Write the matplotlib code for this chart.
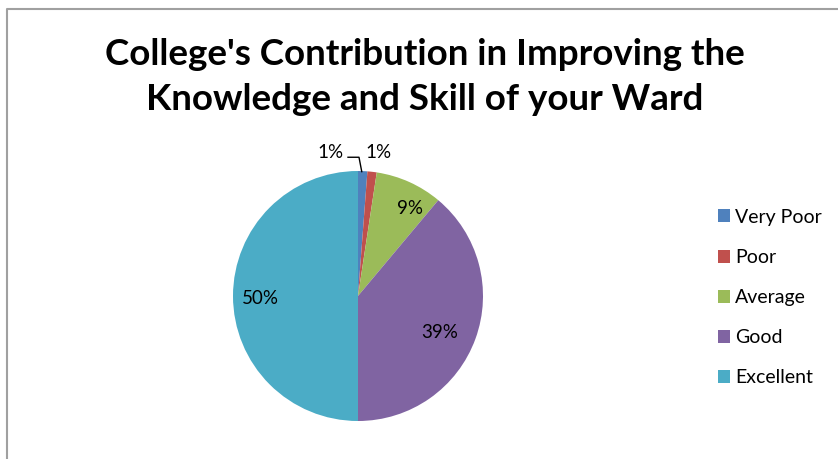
import matplotlib
matplotlib.use("Agg")
import matplotlib.pyplot as plt
from matplotlib.lines import Line2D

categories = ["Very Poor", "Poor", "Average", "Good", "Excellent"]
values = [1.2, 1.2, 8.7, 38.9, 50.0]
colors = ["#4F81BD", "#C0504D", "#9BBB59", "#8064A2", "#4BACC6"]
title = "College's Contribution in Improving the\nKnowledge and Skill of your Ward"

# label positions (data coords, pie radius 1)
label_pos = [(-0.224, 1.152), (0.16, 1.152), (0.416, 0.704), (0.656, -0.296), (-0.784, -0.016)]

plt.rcParams['font.family'] = ['Lato', 'DejaVu Sans']
W, H = 838, 459
fig = plt.figure(figsize=(W / 100, H / 100), dpi=100)

cx, cy, r = 358, 296, 125
ax = fig.add_axes([(cx - r) / W, (H - cy - r) / H, 2 * r / W, 2 * r / H])
wedges, texts, autotexts = ax.pie(values, colors=colors, startangle=90, counterclock=False,
                                  autopct=lambda p: f"{p:.0f}%", pctdistance=0.75,
                                  wedgeprops=dict(linewidth=0), textprops=dict(fontsize=13.5, color="black"))
for t, (x, y) in zip(autotexts, label_pos):
    t.set_position((x, y))
ax.set_xlim(-1, 1)
ax.set_ylim(-1, 1)
ax.set_aspect('auto')
ax.axis('off')

# leader line for first small slice
ax.plot([0.03, 0.008, -0.08], [0.995, 1.11, 1.11], color="black", lw=1, clip_on=False)

fig.text(425 / W, 1 - 77 / H, title, ha="center", va="center", fontsize=26.5,
         fontweight="bold", linespacing=1.42)

leg = fig.legend(wedges, categories, loc="upper left", bbox_to_anchor=(708 / W, 1 - 199 / H),
                 frameon=False, fontsize=14, handlelength=0.65, handleheight=0.65,
                 handletextpad=0.25, labelspacing=1.19, borderpad=0)

# border
fig.add_artist(Line2D([7 / W, 7 / W, 1.0], [0, 1 - 9 / H, 1 - 9 / H], color="#A0A0A0", lw=1.5,
                      transform=fig.transFigure))

fig.savefig("out.png", dpi=100)
